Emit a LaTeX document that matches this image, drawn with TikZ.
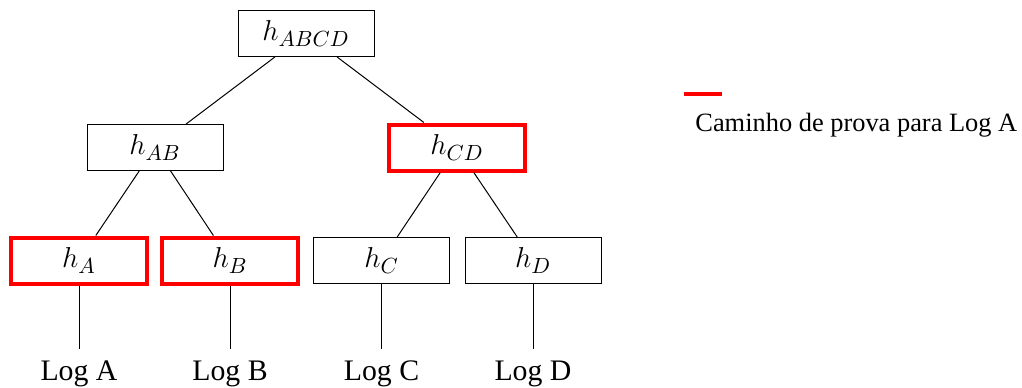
\documentclass[tikz,border=0pt]{standalone}
\usepackage{fontspec}
\setmainfont{Liberation Serif}
\begin{document}
\begin{tikzpicture}[x=0.5pt,y=-0.5pt,
  hashbox/.style={draw=black, line width=0.5pt, minimum width=68pt, minimum height=23pt,
    inner sep=0pt, font=\fontsize{15.4}{18}\selectfont},
  proof/.style={draw=red, line width=2pt},
  edge/.style={draw=black, line width=0.5pt},
  leaflabel/.style={anchor=base, inner sep=5.5pt, font=\fontsize{14.9}{17}\selectfont},
  legendtext/.style={anchor=base west, inner sep=0pt, font=\fontsize{13.2}{15}\selectfont}]
  \useasboundingbox (0,0) rectangle (1022,387);

  % hash tree
  \node[hashbox] (abcd) at (306,33.5) {$h_{ABCD}$};
  \node[hashbox] (ab) at (155,147.5) {$h_{AB}$};
  \node[hashbox, proof] (cd) at (457,147.5) {$h_{CD}$};
  \node[hashbox, proof] (a) at (79,260.5) {$h_A$};
  \node[hashbox, proof] (b) at (230,260.5) {$h_B$};
  \node[hashbox] (c) at (381.5,260.5) {$h_C$};
  \node[hashbox] (d) at (533,260.5) {$h_D$};

  % log entries
  \node[leaflabel] (la) at (79,380) {Log A};
  \node[leaflabel] (lb) at (230,380) {Log B};
  \node[leaflabel] (lc) at (381.5,380) {Log C};
  \node[leaflabel] (ld) at (533,380) {Log D};

  % edges
  \draw[edge] (abcd) -- (ab);
  \draw[edge] (abcd) -- (cd);
  \draw[edge] (ab) -- (a);
  \draw[edge] (ab) -- (b);
  \draw[edge] (cd) -- (c);
  \draw[edge] (cd) -- (d);
  \draw[edge] (a.south) -- (la.north);
  \draw[edge] (b.south) -- (lb.north);
  \draw[edge] (c.south) -- (lc.north);
  \draw[edge] (d.south) -- (ld.north);

  % legend
  \draw[red, line width=2pt] (684,94) -- (722,94);
  \node[legendtext] (legend) at (695,131) {Caminho de prova para Log A};
\end{tikzpicture}
\end{document}
